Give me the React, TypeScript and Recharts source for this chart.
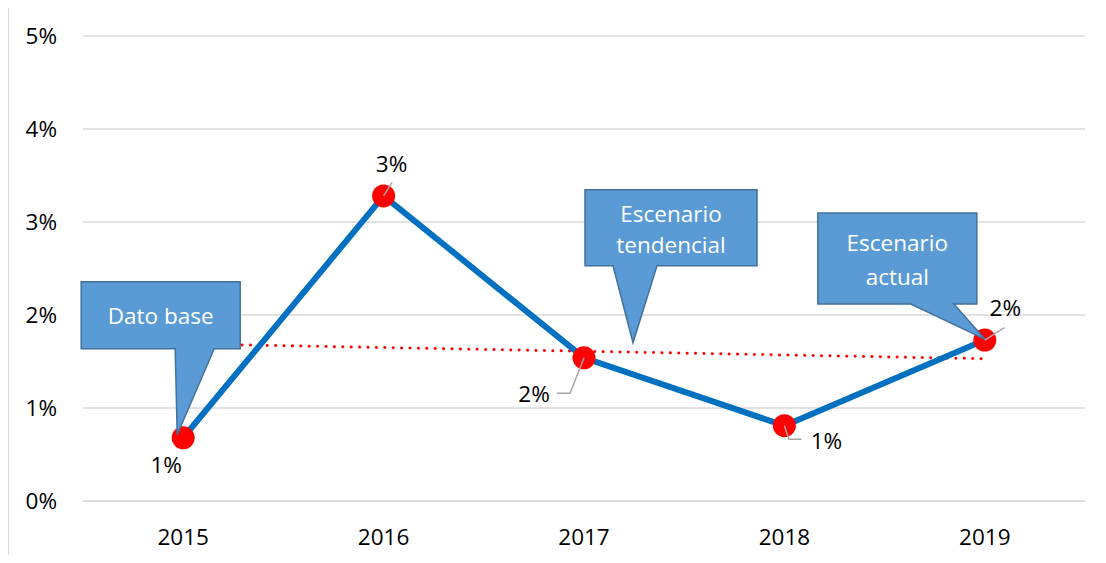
import React from "react"
import { LineChart, Line, XAxis, YAxis, CartesianGrid, LabelList, ReferenceDot } from "recharts"

const years = ["2015", "2016", "2017", "2018", "2019"]
const growth = [0.68, 3.28, 1.54, 0.81, 1.73]
// red dotted trendline, read at its two ends
const trend = [1.69, null, null, null, 1.53]
const yTicks = [0, 1, 2, 3, 4, 5]

const data = years.map((year, i) => ({ year, value: growth[i], trend: trend[i] }))

const FONT = "'Open Sans', sans-serif"
const FS = 22.5

// where each data label sits relative to its point, plus the leader line
const labelPos = [
  { dx: -17, dy: 27, leader: null },
  { dx: 8, dy: -32, leader: [[8.5, -13.5]] },
  { dx: -50, dy: 36, leader: [[-14, 35.5], [-27, 35.5]] },
  { dx: 42, dy: 15, leader: [[4.5, 13.5], [17, 13.5]] },
  { dx: 20.5, dy: -32, leader: [[19.5, -12.5]] },
]

function DataLabel(props: any) {
  const { x, y, value, index } = props
  const p = labelPos[index]
  if (!p) return null
  return (
    <g>
      {p.leader && (
        <polyline
          points={[[0, 0], ...p.leader].map(([a, b]) => `${x + a},${y + b}`).join(" ")}
          fill="none"
          stroke="#a6a6a6"
          strokeWidth={1.5}
        />
      )}
      <text x={x + p.dx} y={y + p.dy} dy="0.35em" textAnchor="middle" fontFamily={FONT} fontSize={FS} fill="#000">
        {Math.round(value)}%
      </text>
    </g>
  )
}

// callout box: box = [left, top, right, bottom], base = pointer base x range, tip = pointer tip,
// all relative to the anchor point
function Callout({ cx, cy, box, base, tip, lines, textY }: any) {
  const [l, t, r, b] = box
  const pts = [
    [l, t], [r, t], [r, b], [base[1], b], [tip[0], tip[1]], [base[0], b], [l, b],
  ]
  const mid = (l + r) / 2
  return (
    <g>
      <polygon
        points={pts.map(([a, c]) => `${cx + a},${cy + c}`).join(" ")}
        fill="#5b9bd5"
        stroke="#41719c"
        strokeWidth={1.5}
      />
      {lines.map((s: string, i: number) => (
        <text key={i} x={cx + mid} y={cy + textY[i]} dy="0.35em" textAnchor="middle" fontFamily={FONT} fontSize={FS} fill="#fff">
          {s}
        </text>
      ))}
    </g>
  )
}

export default function App() {
  return (
    <div style={{ marginTop: -2, width: 1097, height: 548, borderTop: "1px solid #d9d9d9", borderLeft: "1px solid #d9d9d9" }}>
      <LineChart width={1097} height={548} data={data} margin={{ top: 29, right: 21, left: 0, bottom: 0 }}>
        <CartesianGrid vertical={false} stroke="#d9d9d9" strokeWidth={1.5} />
        <XAxis
          dataKey="year"
          interval={0}
          padding={{ left: 100.2, right: 100.2 }}
          height={54}
          axisLine={{ stroke: "#d9d9d9", strokeWidth: 1.5 }}
          tickLine={false}
          tickSize={0}
          tickMargin={28}
          tick={{ fontFamily: FONT, fontSize: FS, fill: "#000" }}
        />
        <YAxis
          domain={[0, 5]}
          ticks={yTicks}
          width={74}
          axisLine={false}
          tickLine={false}
          tickSize={0}
          tickMargin={26}
          tickFormatter={(v) => `${v}%`}
          tick={{ fontFamily: FONT, fontSize: FS, fill: "#000" }}
        />
        <Line
          dataKey="trend"
          connectNulls
          stroke="#ff0000"
          strokeWidth={3}
          strokeDasharray="0.1 8.3"
          strokeLinecap="round"
          dot={false}
          activeDot={false}
          isAnimationActive={false}
        />
        <Line
          dataKey="value"
          stroke="#0070c0"
          strokeWidth={6}
          dot={{ r: 11.5, fill: "#ff0000", stroke: "none", fillOpacity: 1 }}
          activeDot={false}
          isAnimationActive={false}
        >
          <LabelList dataKey="value" content={<DataLabel />} />
        </Line>
        <ReferenceDot
          x="2015"
          y={growth[0]}
          shape={(p: any) => (
            <Callout cx={p.cx} cy={p.cy} box={[-102, -156, 57, -89]} base={[-8, 31]} tip={[-6, -3]} lines={["Dato base"]} textY={[-122]} />
          )}
        />
        <ReferenceDot
          x="2017"
          y={growth[2]}
          shape={(p: any) => (
            <Callout cx={p.cx} cy={p.cy} box={[1, -168, 173, -92]} base={[29, 73]} tip={[49, -15]} lines={["Escenario", "tendencial"]} textY={[-144, -113]} />
          )}
        />
        <ReferenceDot
          x="2019"
          y={growth[4]}
          shape={(p: any) => (
            <Callout cx={p.cx} cy={p.cy} box={[-167, -127, -8, -36]} base={[-74, -31]} tip={[0, -1]} lines={["Escenario", "actual"]} textY={[-97, -63]} />
          )}
        />
      </LineChart>
    </div>
  )
}
